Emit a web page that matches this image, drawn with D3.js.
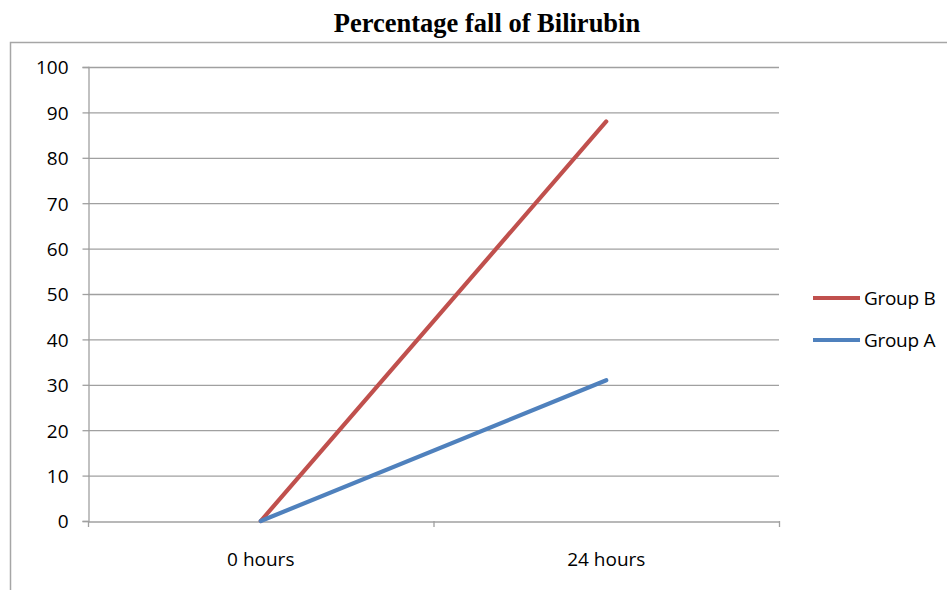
<!DOCTYPE html>
<html><head><meta charset="utf-8">
<script src="https://cdn.jsdelivr.net/npm/d3@7"></script>
<style>body{margin:0;background:#fff}svg{display:block}</style>
</head><body>
<svg id="c" width="947" height="590"></svg>
<script>
const categories = ["0 hours", "24 hours"];
const groupB = [0, 88];
const groupA = [0, 31];
const yTicks = [0,10,20,30,40,50,60,70,80,90,100];
const seriesNames = ["Group B", "Group A"];
const seriesColors = ["#C0504D", "#4F81BD"];

const svg = d3.select("#c");
const font = "'Open Sans', 'Liberation Sans', sans-serif";

// outer chart border
svg.append("rect").attr("x",10.5).attr("y",42.5).attr("width",960).attr("height",600)
  .attr("fill","none").attr("stroke","#a6a6a6").attr("stroke-width",1.5);

svg.append("text").attr("x",487).attr("y",32).attr("text-anchor","middle")
  .attr("font-family","'Liberation Serif', 'Times New Roman', serif").attr("font-weight","bold")
  .attr("font-size",26.5).attr("fill","#000").text("Percentage fall of Bilirubin");

const L=88, R=779, T=67, B=521;
const x = d3.scaleBand().domain(categories).range([L,R]);
const y = d3.scaleLinear().domain([0,100]).range([B,T]);

// gridlines
svg.append("g").selectAll("line").data(yTicks.filter(d=>d>0)).join("line")
  .attr("x1",L).attr("x2",R).attr("y1",d=>y(d)+0.5).attr("y2",d=>y(d)+0.5)
  .attr("stroke","#a0a0a0").attr("stroke-width",1.3);

// y axis
const ya = svg.append("g").attr("transform",`translate(${L+0.5},0)`)
  .call(d3.axisLeft(y).tickValues(yTicks).tickSize(6).tickPadding(14));
ya.select(".domain").attr("stroke","#a0a0a0").attr("stroke-width",1.3);
ya.selectAll(".tick line").attr("stroke","#a0a0a0").attr("stroke-width",1.3);
ya.selectAll(".tick text").attr("font-family",font).attr("font-size",19).attr("fill","#000")
  .attr("dy","0.36em");

// x axis
const xa = svg.append("g").attr("transform",`translate(0,${B+0.5})`)
  .call(d3.axisBottom(x).tickSize(0).tickPadding(33));
xa.select(".domain").attr("stroke","#a0a0a0").attr("stroke-width",1.3);
xa.selectAll(".tick text").attr("font-family",font).attr("font-size",19).attr("fill","#000")
  .attr("dy","0.6em");
// category boundary ticks
const bounds = [L, x(categories[1]), R];
svg.append("g").selectAll("line").data(bounds).join("line")
  .attr("x1",d=>d+0.5).attr("x2",d=>d+0.5).attr("y1",B).attr("y2",B+6)
  .attr("stroke","#a0a0a0").attr("stroke-width",1.3);

const line = d3.line().x((d,i)=>x(categories[i])+x.bandwidth()/2).y(d=>y(d));
[groupB, groupA].forEach((s,i)=>{
  svg.append("path").attr("d",line(s)).attr("fill","none")
    .attr("stroke",seriesColors[i]).attr("stroke-width",4.2).attr("stroke-linecap","round");
});

// legend
seriesNames.forEach((n,i)=>{
  const ly = 298 + i*42;
  svg.append("line").attr("x1",813).attr("x2",860).attr("y1",ly).attr("y2",ly)
    .attr("stroke",seriesColors[i]).attr("stroke-width",4.2);
  svg.append("text").attr("x",864).attr("y",ly+6.5).attr("font-family",font).attr("font-size",19)
    .attr("letter-spacing",-0.3).attr("fill","#000").text(n);
});
</script>
</body></html>
